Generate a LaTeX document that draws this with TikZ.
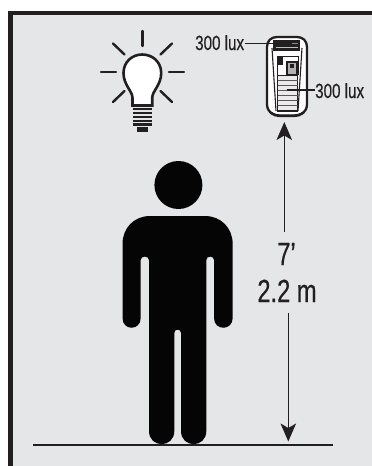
\documentclass[tikz,border=0pt]{standalone}
\usepackage{fontspec}
\setmainfont[FakeStretch=0.74,FakeBold=0.4]{Liberation Sans}
\usetikzlibrary{arrows.meta}
\definecolor{ink}{HTML}{231F20}
\definecolor{panel}{HTML}{E5E6E8}
\tikzset{
  lbl/.style={inner sep=0pt,text=ink,font=\fontsize{20.5}{20}\selectfont},
  dim/.style={inner sep=0pt,text=ink,font=\fontsize{32}{32}\selectfont},
  ray/.style={draw=ink,line width=2.4pt,line cap=round},
  leader/.style={draw=ink,line width=1.2pt},
  dimline/.style={draw=ink,line width=1.2pt,-{Stealth[length=18pt,width=15.5pt,inset=4.5pt]}},
  stripe/.style={draw=ink,line width=1.1pt},
}
\begin{document}
\begin{tikzpicture}[x=1pt,y=-1pt]
\useasboundingbox (0,0) rectangle (372,466);
\fill[white] (0,0) rectangle (372,466);
\fill[panel] (10.5,13) rectangle (372,466);
\draw[ink,line width=4.4pt] (10.5,466) -- (10.5,13) -- (372,13);
% ground
\coordinate (gl) at (33,445);
\coordinate (gr) at (333,445);
\draw[ink,line width=2pt] (gl) -- (gr);
% person
\fill[black!98] (178.4,185) circle[radius=24];
\fill[black!98] (122.5,244) .. controls (122.5,228) and (134,216) .. (150,216) -- (205,216)
  .. controls (221,216) and (232.7,228) .. (232.7,244) -- (232.7,318)
  .. controls (232.7,331) and (214,331) .. (214,318) -- (214,260)
  .. controls (214,255.5) and (206.3,255.5) .. (206.3,260) -- (206.3,431)
  .. controls (206.3,448.5) and (181,448.5) .. (181,431) -- (181,333)
  .. controls (181,328.5) and (174.3,328.5) .. (174.3,333) -- (174.3,431)
  .. controls (174.3,448.5) and (149,448.5) .. (149,431) -- (149,260)
  .. controls (149,255.5) and (140.7,255.5) .. (140.7,260) -- (140.7,318)
  .. controls (140.7,331) and (122.5,331) .. (122.5,318) -- cycle;
% bulb rays
\draw[ray] (142.3,31) -- (142.3,46);
\draw[ray] (101,72) -- (116,72);
\draw[ray] (169,72) -- (184,72);
\draw[ray] (113,43.5) -- (124.5,54.5);
\draw[ray] (172,43.5) -- (160.5,54.5);
\draw[ray] (113,102) -- (124.5,91);
\draw[ray] (172,102) -- (160.5,91);
% bulb
\draw[ink,line width=2.6pt,fill=white] (132.5,105.5) -- (132.5,98)
  .. controls (132.5,91) and (123.5,85) .. (123.5,73)
  .. controls (123.5,62) and (132,54.5) .. (142.3,54.5)
  .. controls (152.5,54.5) and (161.2,62) .. (161.2,73)
  .. controls (161.2,85) and (152.2,91) .. (152.2,98) -- (152.2,105.5) -- cycle;
\foreach \yy in {109,113,117,121,124.6}
  \draw[ink,line width=2.5pt] (133,\yy) -- (152,\yy);
\fill[ink] (137,127) rectangle (147.5,131.5);
% sensor
\draw[ink,line width=2.3pt,fill=white] (277,37) -- (297,37)
  .. controls (303,37) and (307,41) .. (307,47) -- (307,104)
  .. controls (307,112) and (301,116) .. (294,116) -- (280,116)
  .. controls (273,116) and (267,112) .. (267,104) -- (267,47)
  .. controls (267,41) and (271,37) .. (277,37) -- cycle;
\draw[ink,line width=1.1pt] (272,48) -- (276,111) (302,48) -- (298,111);
\draw[ink,line width=1.2pt] (271,112) .. controls (274,114.5) and (278,115) .. (282,115) -- (292,115) .. controls (296,115) and (300,114.5) .. (303,112);
\fill[ink] (273,39.5) rectangle (300,50.5);
\fill[black!45] (276,42.5) rectangle (298,44);
\fill[black!25] (276,46.5) rectangle (298,47.5);
\draw[ink,line width=1pt] (277,75) -- (277,56) -- (298,56) -- (298,75);
\fill[ink] (277,56) rectangle (282.5,65);
\draw[stripe,fill=black!30] (287,62) rectangle (297,75);
\fill[ink] (290,64) rectangle (293.5,68);
\draw[ink,line width=1.1pt,fill=black!8] (277.5,75.5) rectangle (297.5,111);
\foreach \yy in {80,85,90,95,100,105.5}
  \draw[draw=ink!75,line width=1pt] (277.5,\yy) -- (297.5,\yy);
% labels
\node[lbl,anchor=base west] (lux1) at (195,50) {300 lux};
\node[lbl,anchor=base west] (lux2) at (315,98) {300 lux};
\coordinate (s1) at (292,43.5);
\coordinate (s2) at (287,90);
\draw[leader] (lux1.east |- s1) ++(1,0) -- (s1);
\draw[leader] (s2) -- (s2 -| lux2.west);
% dimensions
\node[dim,anchor=base] (seven) at (286.5,265) {7’};
\node[dim,anchor=base] (meters) at (287,302) {2.2 m};
\coordinate (upstart) at (284.3,232);
\coordinate (uptip) at (284.3,122);
\coordinate (downstart) at (288.3,312.5);
\coordinate (downtip) at (288.3,441.5);
\draw[dimline] (upstart) -- (uptip);
\draw[dimline] (downstart) -- (downtip);
\end{tikzpicture}
\end{document}
